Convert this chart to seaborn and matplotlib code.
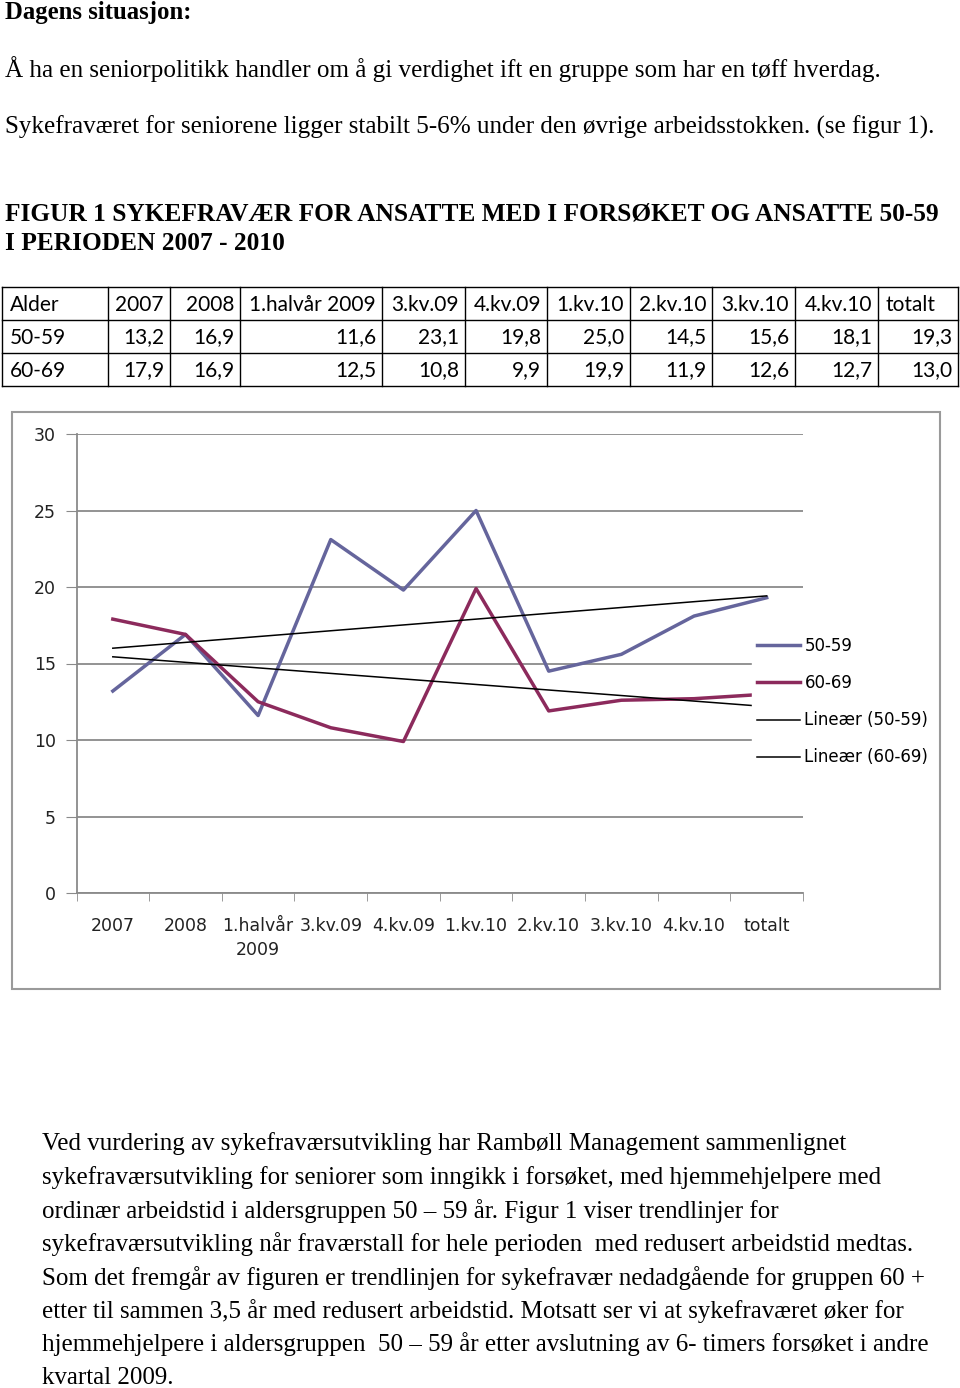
import numpy as np
import pandas as pd
import seaborn as sns
import matplotlib.pyplot as plt
from matplotlib.patches import Rectangle

# --- data ---
periods = ["2007", "2008", "1.halvår 2009", "3.kv.09", "4.kv.09",
           "1.kv.10", "2.kv.10", "3.kv.10", "4.kv.10", "totalt"]
tick_labels = ["2007", "2008", "1.halvår\n2009", "3.kv.09", "4.kv.09",
               "1.kv.10", "2.kv.10", "3.kv.10", "4.kv.10", "totalt"]
group_a = "50-59"
group_b = "60-69"
values_a = [13.2, 16.9, 11.6, 23.1, 19.8, 25.0, 14.5, 15.6, 18.1, 19.3]
values_b = [17.9, 16.9, 12.5, 10.8, 9.9, 19.9, 11.9, 12.6, 12.7, 13.0]

heading = "Dagens situasjon:"
intro = ["Å ha en seniorpolitikk handler om å gi verdighet ift en gruppe som har en tøff hverdag.",
         "Sykefraværet for seniorene ligger stabilt 5-6% under den øvrige arbeidsstokken. (se figur 1)."]
fig_title = ["FIGUR 1 SYKEFRAVÆR FOR ANSATTE MED I FORSØKET OG ANSATTE 50-59",
             "I PERIODEN 2007 - 2010"]
body = ["Ved vurdering av sykefraværsutvikling har Rambøll Management sammenlignet",
        "sykefraværsutvikling for seniorer som inngikk i forsøket, med hjemmehjelpere med",
        "ordinær arbeidstid i aldersgruppen 50 – 59 år. Figur 1 viser trendlinjer for",
        "sykefraværsutvikling når fraværstall for hele perioden  med redusert arbeidstid medtas.",
        "Som det fremgår av figuren er trendlinjen for sykefravær nedadgående for gruppen 60 +",
        "etter til sammen 3,5 år med redusert arbeidstid. Motsatt ser vi at sykefraværet øker for",
        "hjemmehjelpere i aldersgruppen  50 – 59 år etter avslutning av 6- timers forsøket i andre",
        "kvartal 2009."]

df = pd.DataFrame({"idx": np.arange(len(periods)), group_a: values_a, group_b: values_b})

W, H = 960, 1388
col_a = "#65659c"
col_b = "#8c2a5c"
grid_col = "#8a8a8a"

fig = plt.figure(figsize=(W / 100, H / 100), dpi=100)

# page overlay in pixel coordinates
page = fig.add_axes([0, 0, 1, 1])
page.set_xlim(0, W)
page.set_ylim(H, 0)
page.axis("off")

serif = "Liberation Serif"
page.text(5, 12, heading, fontsize=17.8, fontweight="bold", family=serif, va="center")
page.text(5, 69, intro[0], fontsize=18.1, family=serif, va="center")
page.text(5, 127, intro[1], fontsize=18.1, family=serif, va="center")
page.text(5, 214, fig_title[0], fontsize=18.3, fontweight="bold", family=serif, va="center")
page.text(5, 243, fig_title[1], fontsize=18.3, fontweight="bold", family=serif, va="center")

for i, line in enumerate(body):
    page.text(42, 1144 + i * 33.4, line, fontsize=18, family=serif, va="center")

# --- table ---
col_edges = [2, 108, 170, 240, 382, 465, 547, 630, 712, 795, 878, 958]
row_edges = [287, 320, 353, 386]
for x in col_edges:
    page.plot([x, x], [row_edges[0], row_edges[-1]], color="black", lw=1)
for y in row_edges:
    page.plot([col_edges[0], col_edges[-1]], [y, y], color="black", lw=1)

tfont = "Lato"
rows = [["Alder"] + periods,
        [group_a] + [f"{v:.1f}".replace(".", ",") for v in values_a],
        [group_b] + [f"{v:.1f}".replace(".", ",") for v in values_b]]
for r, row in enumerate(rows):
    yc = (row_edges[r] + row_edges[r + 1]) / 2 + 1
    for c, cell in enumerate(row):
        if c == 0 or r == 0 and c == len(row) - 1:
            page.text(col_edges[c] + 8, yc, cell, fontsize=15, family=tfont, va="center", ha="left")
        else:
            page.text(col_edges[c + 1] - 6, yc, cell, fontsize=15, family=tfont, va="center", ha="right")

# chart frame
page.add_patch(Rectangle((12, 412), 928, 577, fill=False, edgecolor="#9a9a9a", lw=1.5))

# --- chart ---
x0, x1 = 76.5, 803
y0, y1 = 434, 893
ax = fig.add_axes([x0 / W, 1 - y1 / H, (x1 - x0) / W, (y1 - y0) / H])

sns.lineplot(data=df, x="idx", y=group_a, ax=ax, color=col_a, lw=2.5, label=group_a, zorder=3)
sns.lineplot(data=df, x="idx", y=group_b, ax=ax, color=col_b, lw=2.5, label=group_b, zorder=3)
sns.regplot(data=df, x="idx", y=group_a, ax=ax, scatter=False, ci=None,
            line_kws={"color": "black", "lw": 1.1, "zorder": 4}, label="Lineær (50-59)")
sns.regplot(data=df, x="idx", y=group_b, ax=ax, scatter=False, ci=None,
            line_kws={"color": "black", "lw": 1.1, "zorder": 4}, label="Lineær (60-69)")

ax.set_xlim(-0.5, len(periods) - 0.5)
ax.set_ylim(0, 30)
ax.set_yticks(range(0, 31, 5))
ax.yaxis.grid(True, color=grid_col, lw=1.3)
ax.set_axisbelow(True)
ax.set_xticks(np.arange(len(periods)))
ax.set_xticklabels(tick_labels, fontsize=12.5, color="#222222", linespacing=1.45)
ax.set_xticks(np.arange(len(periods) + 1) - 0.5, minor=True)
ax.tick_params(axis="x", which="major", length=0, pad=17)
ax.tick_params(axis="x", which="minor", length=6, color=grid_col, direction="out")
ax.tick_params(axis="y", length=8, color=grid_col, labelsize=12.5, pad=7, labelcolor="#222222")
for s in ["top", "right"]:
    ax.spines[s].set_visible(False)
for s in ["left", "bottom"]:
    ax.spines[s].set_color(grid_col)
    ax.spines[s].set_linewidth(1.3)
ax.set_xlabel("")
ax.set_ylabel("")

leg = ax.legend(loc="upper left", bbox_to_anchor=(752 / W, 1 - 632 / H),
                bbox_transform=fig.transFigure, frameon=True, fontsize=12,
                handlelength=2.6, handletextpad=0.25, labelspacing=1.15,
                borderaxespad=0, borderpad=0.3)
leg.get_frame().set_facecolor("white")
leg.get_frame().set_edgecolor("white")
leg.get_frame().set_alpha(1)

fig.savefig("out.png", dpi=100)
